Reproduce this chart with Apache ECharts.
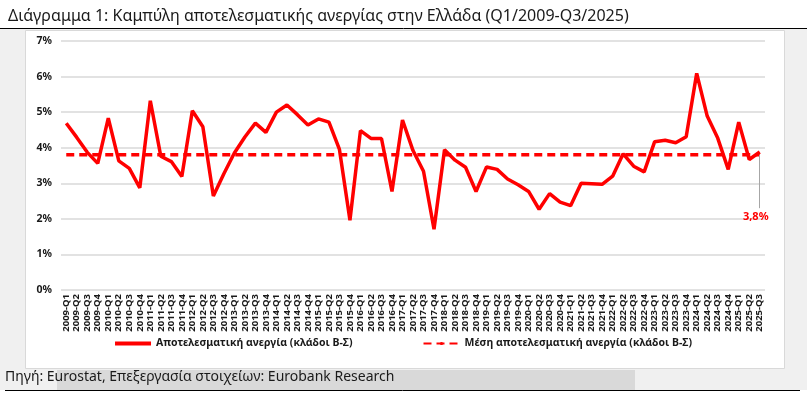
<!DOCTYPE html>
<html>
<head>
<meta charset="utf-8">
<script src="https://cdn.jsdelivr.net/npm/echarts@6/dist/echarts.min.js"></script>
<style>
html,body{margin:0;padding:0;background:#fff;}
#chart{width:807px;height:393px;}
</style>
</head>
<body>
<div id="chart"></div>
<script>
const categories = [
 '2009-Q1','2009-Q2','2009-Q3','2009-Q4',
 '2010-Q1','2010-Q2','2010-Q3','2010-Q4',
 '2011-Q1','2011-Q2','2011-Q3','2011-Q4',
 '2012-Q1','2012-Q2','2012-Q3','2012-Q4',
 '2013-Q1','2013-Q2','2013-Q3','2013-Q4',
 '2014-Q1','2014-Q2','2014-Q3','2014-Q4',
 '2015-Q1','2015-Q2','2015-Q3','2015-Q4',
 '2016-Q1','2016-Q2','2016-Q3','2016-Q4',
 '2017-Q1','2017-Q2','2017-Q3','2017-Q4',
 '2018-Q1','2018-Q2','2018-Q3','2018-Q4',
 '2019-Q1','2019-Q2','2019-Q3','2019-Q4',
 '2020-Q1','2020-Q2','2020-Q3','2020-Q4',
 '2021-Q1','2021-Q2','2021-Q3','2021-Q4',
 '2022-Q1','2022-Q2','2022-Q3','2022-Q4',
 '2023-Q1','2023-Q2','2023-Q3','2023-Q4',
 '2024-Q1','2024-Q2','2024-Q3','2024-Q4',
 '2025-Q1','2025-Q2','2025-Q3'
];
const unemployment = [
 4.69, 4.29, 3.87, 3.56,
 4.83, 3.63, 3.42, 2.87,
 5.32, 3.76, 3.61, 3.19,
 5.04, 4.59, 2.64, 3.27,
 3.85, 4.30, 4.69, 4.43,
 5.00, 5.20, 4.93, 4.64,
 4.81, 4.72, 3.95, 1.96,
 4.48, 4.26, 4.26, 2.77,
 4.78, 3.92, 3.34, 1.71,
 3.94, 3.65, 3.45, 2.77,
 3.46, 3.39, 3.12, 2.96,
 2.77, 2.27, 2.71, 2.47,
 2.37, 3.00, 2.99, 2.97,
 3.20, 3.83, 3.48, 3.32,
 4.17, 4.21, 4.14, 4.31,
 6.09, 4.89, 4.27, 3.39,
 4.72, 3.67, 3.88
];
const meanValue = 3.8;
const meanLabel = '3,8%';
const leaderEndValue = 2.3;
const yTicks = [0, 1, 2, 3, 4, 5, 6, 7];
const seriesNames = ['Αποτελεσματική ανεργία (κλάδοι Β-Σ)', 'Μέση αποτελεσματική ανεργία (κλάδοι Β-Σ)'];
const titleText = 'Διάγραμμα 1: Καμπύλη αποτελεσματικής ανεργίας στην Ελλάδα (Q1/2009-Q3/2025)';
const sourceText = 'Πηγή: Eurostat, Επεξεργασία στοιχείων: Eurobank Research';

const FONT = '"Noto Sans", "DejaVu Sans", sans-serif';
const RED = '#ff0000';
const lastCat = categories[categories.length - 1];

const meanData = categories.map((c, i) => {
  if (i === categories.length - 1) {
    return {
      value: meanValue,
      label: {
        show: true, formatter: meanLabel, position: 'bottom',
        color: RED, fontSize: 11, fontWeight: 'bold', fontFamily: FONT
      }
    };
  }
  return meanValue;
});

const chart = echarts.init(document.getElementById('chart'), null, { renderer: 'canvas' });
chart.setOption({
  backgroundColor: '#ffffff',
  animation: false,
  graphic: [
    { type: 'rect', z: -10, silent: true, shape: { x: 0, y: 29, width: 807, height: 361 }, style: { fill: '#f0f0f0' } },
    { type: 'rect', z: -9, silent: true, shape: { x: 25.5, y: 30.5, width: 759, height: 338 }, style: { fill: '#ffffff', stroke: '#d9d9d9', lineWidth: 1 } },
    { type: 'rect', z: -9, silent: true, shape: { x: 57, y: 370, width: 578, height: 20 }, style: { fill: '#d9d9d9' } },
    { type: 'line', z: -8, silent: true, shape: { x1: 0, y1: 28.5, x2: 807, y2: 28.5 }, style: { stroke: '#000', lineWidth: 1 } },
    { type: 'line', z: -8, silent: true, shape: { x1: 5, y1: 390.5, x2: 800, y2: 390.5 }, style: { stroke: '#000', lineWidth: 1 } },
    { type: 'text', left: 5, top: 370, style: { text: sourceText, font: '14px ' + FONT, fill: '#1a1a1a' } }
  ],
  title: {
    text: titleText, left: 3, top: 3,
    textStyle: { fontFamily: FONT, fontSize: 16, fontWeight: 'normal', color: '#1a1a1a' }
  },
  legend: {
    bottom: 39, left: 'center', itemGap: 70,
    itemWidth: 36, itemHeight: 4,
    textStyle: { fontFamily: FONT, fontSize: 10.5, fontWeight: 'bold', color: '#1a1a1a' },
    data: [
      { name: seriesNames[0], icon: 'rect' },
      { name: seriesNames[1] }
    ]
  },
  grid: { left: 61, right: 42, top: 41, bottom: 103, containLabel: false },
  xAxis: {
    type: 'category', data: categories, boundaryGap: true,
    axisLine: { show: false }, axisTick: { show: false },
    axisLabel: { interval: 0, rotate: 90, fontSize: 9.5, fontWeight: 'bold', fontFamily: FONT, color: '#1a1a1a', margin: 4 }
  },
  yAxis: {
    type: 'value', min: yTicks[0], max: yTicks[yTicks.length - 1], interval: 1,
    axisLine: { show: false }, axisTick: { show: false },
    splitLine: { lineStyle: { color: '#d9d9d9', width: 1.5 } },
    axisLabel: { formatter: v => v + '%', fontSize: 10.5, fontWeight: 'bold', fontFamily: FONT, color: '#1a1a1a', margin: 9 }
  },
  series: [
    {
      name: seriesNames[0], type: 'line', data: unemployment,
      symbol: 'none', lineStyle: { color: RED, width: 3.5 }, itemStyle: { color: RED }, z: 3
    },
    {
      name: seriesNames[1], type: 'line', data: meanData,
      symbol: 'circle', symbolSize: 0, showSymbol: true,
      lineStyle: { color: RED, width: 3.5, type: [8, 5] }, itemStyle: { color: RED }, z: 2,
      labelLayout: { dy: 52, dx: -4 },
      markLine: {
        silent: true, symbol: ['none', 'none'], animation: false,
        label: { show: false },
        lineStyle: { color: '#a6a6a6', width: 1, type: 'solid' },
        data: [[{ coord: [lastCat, meanValue] }, { coord: [lastCat, leaderEndValue] }]]
      }
    }
  ]
});
</script>
</body>
</html>
